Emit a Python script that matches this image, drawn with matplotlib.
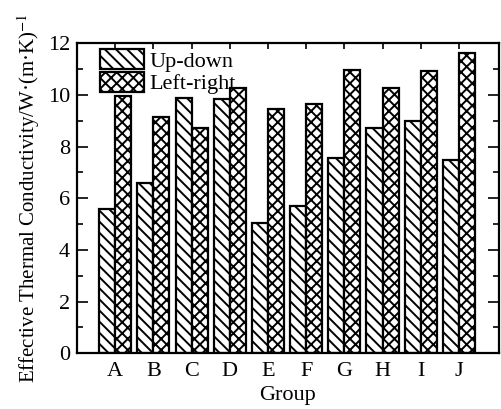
import numpy as np
import matplotlib
matplotlib.use("Agg")
import matplotlib.pyplot as plt
from matplotlib.ticker import MultipleLocator

plt.rcParams['font.family'] = ['Liberation Serif', 'DejaVu Serif']
plt.rcParams['mathtext.fontset'] = 'stix'
plt.rcParams['hatch.linewidth'] = 1.4

groups = ["A", "B", "C", "D", "E", "F", "G", "H", "I", "J"]
up_down = [5.57, 6.58, 9.88, 9.83, 5.05, 5.72, 7.55, 8.73, 9.0, 7.47]
left_right = [9.97, 9.16, 8.73, 10.26, 9.47, 9.67, 10.98, 10.26, 10.93, 11.64]

x = np.arange(1, len(groups) + 1)
w = 0.42

fig = plt.figure(figsize=(5.01, 4.09), dpi=100)
ax = fig.add_axes([0.1537, 0.1362, 0.8423, 0.7578])

ax.bar(x - w / 2, up_down, w, facecolor="white", edgecolor="black",
       linewidth=1.6, hatch="\\\\\\", label="Up-down")
ax.bar(x + w / 2, left_right, w, facecolor="white", edgecolor="black",
       linewidth=1.6, hatch="xxx", label="Left-right")

ax.set_xlim(0, 11.05)
ax.set_ylim(0, 12)
ax.set_xticks(x)
ax.set_xticklabels(groups)
ax.yaxis.set_major_locator(MultipleLocator(2))
ax.yaxis.set_minor_locator(MultipleLocator(1))
ax.tick_params(axis="both", which="both", direction="in", labelsize=16,
               top=True, right=True, width=1.2)
ax.tick_params(axis="y", which="major", length=8, pad=5)
ax.tick_params(axis="y", which="minor", length=4)
ax.tick_params(axis="x", which="major", length=4, pad=6)
for s in ax.spines.values():
    s.set_linewidth(1.6)

ax.set_xlabel("Group", fontsize=16, labelpad=4)
ax.set_ylabel("Effective Thermal Conductivity/W·(m·K)$^{-1}$", fontsize=15, labelpad=4)

ax.legend(loc="upper left", bbox_to_anchor=(0.045, 0.995), frameon=False, fontsize=16,
          handlelength=1.95, handleheight=1.0, labelspacing=0.0, handletextpad=0.25,
          borderaxespad=0.1, borderpad=0.1)

fig.savefig("out.png", dpi=100)
